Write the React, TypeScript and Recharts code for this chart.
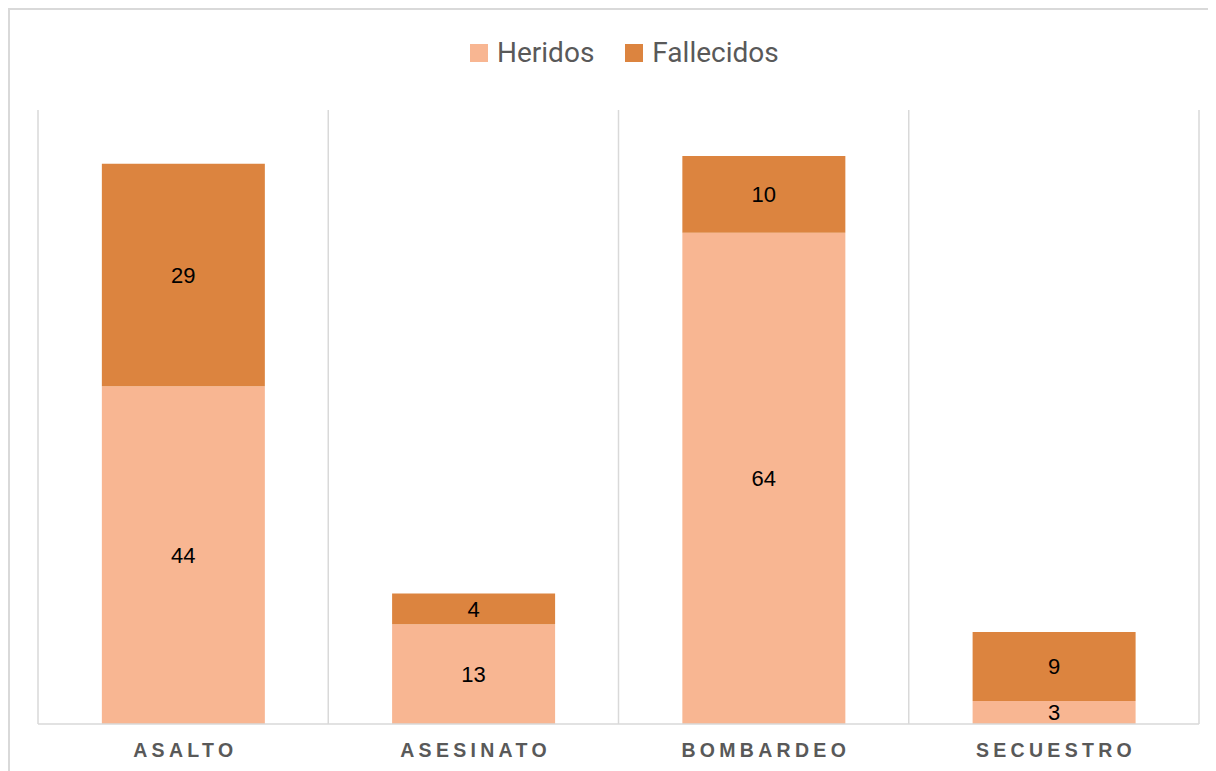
import React from 'react';
import { BarChart, Bar, XAxis, YAxis, CartesianGrid, Legend, LabelList } from 'recharts';

const categories = ['ASALTO', 'ASESINATO', 'BOMBARDEO', 'SECUESTRO'];
const heridos = [44, 13, 64, 3];
const fallecidos = [29, 4, 10, 9];
const seriesNames = ['Heridos', 'Fallecidos'];
const seriesColors = ['#F8B692', '#DC843F'];

const data = categories.map((c, i) => ({ name: c, heridos: heridos[i], fallecidos: fallecidos[i] }));

const LS = 4.3;

const Tick = (props: any) => {
  const { x, y, payload } = props;
  return (
    <text
      x={x + LS / 2}
      y={y}
      dy={25}
      textAnchor="middle"
      fontFamily="'Liberation Sans', Arial, sans-serif"
      fontWeight="bold"
      fontSize={19.5}
      letterSpacing={LS}
      fill="#595959"
    >
      {payload.value}
    </text>
  );
};

const LegendContent = () => (
  <div style={{ display: 'flex', alignItems: 'center', height: 28 }}>
    {seriesNames.map((n, i) => (
      <div key={n} style={{ display: 'flex', alignItems: 'center', marginRight: i === 0 ? 31 : 0 }}>
        <div style={{ width: 18, height: 18, background: seriesColors[i], marginRight: 9 }} />
        <span style={{ fontFamily: 'Roboto, sans-serif', fontSize: 28, lineHeight: '28px', color: '#595959' }}>{n}</span>
      </div>
    ))}
  </div>
);

export default function App() {
  return (
    <div>
      <style>{'body{overflow:hidden}'}</style>
      <div style={{ borderTop: '2px solid #d9d9d9', borderLeft: '2px solid #d9d9d9', width: 1220, height: 770, position: 'relative' }}>
        <BarChart
          width={1206}
          height={755}
          data={data}
          margin={{ top: 100, right: 17, bottom: 0, left: 28 }}
          barCategoryGap="22%"
        >
          <CartesianGrid
            horizontal={false}
            stroke="#d9d9d9"
            strokeWidth={1.5}
            verticalCoordinatesGenerator={({ offset }: any) =>
              [0, 1, 2, 3, 4].map((i) => offset.left + (i * offset.width) / 4)
            }
          />
          <XAxis
            dataKey="name"
            height={41}
            axisLine={{ stroke: '#d9d9d9', strokeWidth: 1.5 }}
            tickLine={false}
            tick={<Tick />}
            interval={0}
          />
          <YAxis hide domain={[0, 80]} />
          <Legend
            verticalAlign="middle"
            align="center"
            layout="horizontal"
            wrapperStyle={{ top: 29, left: 460, width: 400 }}
            content={<LegendContent />}
          />
          <Bar dataKey="heridos" name="Heridos" stackId="a" fill={seriesColors[0]} isAnimationActive={false}>
            <LabelList dataKey="heridos" position="center" fill="#000" fontSize={22} fontFamily="'Liberation Sans', Arial, sans-serif" />
          </Bar>
          <Bar dataKey="fallecidos" name="Fallecidos" stackId="a" fill={seriesColors[1]} isAnimationActive={false}>
            <LabelList dataKey="fallecidos" position="center" fill="#000" fontSize={22} fontFamily="'Liberation Sans', Arial, sans-serif" />
          </Bar>
        </BarChart>
      </div>
    </div>
  );
}
